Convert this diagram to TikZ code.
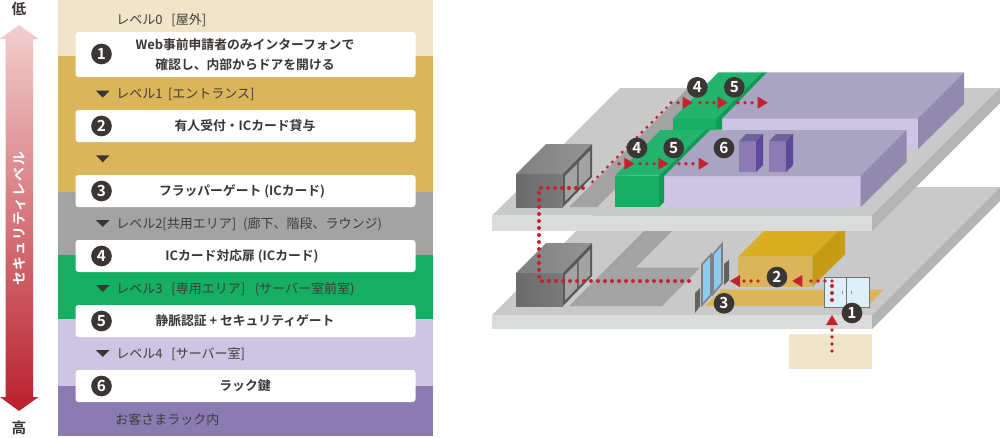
\documentclass[tikz,border=0pt]{standalone}
\usepackage{fontspec}
\setmainfont{Noto Sans CJK JP}[BoldFont={Noto Sans CJK JP Bold}]
\usetikzlibrary{decorations.markings}
\definecolor{cBeige}{HTML}{F0E5C8}
\definecolor{cGold}{HTML}{DAB55A}
\definecolor{cGoldT}{HTML}{DAAE22}
\definecolor{cGoldS}{HTML}{C69C17}
\definecolor{cGrayB}{HTML}{A3A3A3}
\definecolor{cGreen}{HTML}{15AE63}
\definecolor{cGreenT}{HTML}{23B36C}
\definecolor{cGreenS}{HTML}{0F9B57}
\definecolor{cLav}{HTML}{CEC4E3}
\definecolor{cLavT}{HTML}{AAA4C3}
\definecolor{cLavS}{HTML}{9189AE}
\definecolor{cPur}{HTML}{8A7BB3}
\definecolor{cPurT}{HTML}{6E6399}
\definecolor{cPurS}{HTML}{5E4699}
\definecolor{cInk}{HTML}{3A3634}
\definecolor{cText}{HTML}{403C38}
\definecolor{cRed}{HTML}{C3222F}
\definecolor{cFloor}{HTML}{C9C9C9}
\definecolor{cFront}{HTML}{DADCDB}
\definecolor{cSide}{HTML}{B4B4B4}
\definecolor{cGlass}{HTML}{8CCBF0}
\definecolor{cDoor}{HTML}{DDF0FA}
\tikzset{
  x=0.75pt,y=-0.75pt,
  card/.style={fill=white,rounded corners=2.2pt,draw=none},
  num/.style={circle,fill=cInk,text=white,inner sep=0pt,minimum size=15.5pt,font=\fontsize{11.5pt}{12pt}\bfseries},
  cardtext/.style={text=cInk,align=center,font=\fontsize{9.6pt}{14.5pt}\bfseries,inner sep=0pt},
  leveltext/.style={text=cText,anchor=west,inner sep=0pt,font=\fontsize{9.75pt}{12pt}\selectfont},
  endtext/.style={text=cInk,inner sep=0pt,font=\fontsize{11pt}{12pt}\bfseries},
  marker/.style={fill=cInk},
  reddots/.style={postaction={decorate},decoration={markings,
    mark=between positions 0 and 1 step 5.25pt with {\fill[cRed] (0pt,0pt) circle (1.5pt);}}},
  redarrow/.style={postaction={decorate},decoration={markings,
    mark=between positions 0 and -9pt step 5.25pt with {\fill[cRed] (0pt,0pt) circle (1.4pt);},
    mark=at position 1 with {\fill[cRed] (0pt,0pt) -- (-7.5pt,4.5pt) -- (-7.5pt,-4.5pt) -- cycle;}}},
  reddash/.style={draw=cRed,line width=1.6pt,dash pattern=on 1.9pt off 3.35pt},
}
\newcommand{\downmark}[1]{\fill[marker] (96,#1) -- (109.5,#1) -- (102.75,#1+7) -- cycle;}
\newcommand{\storebox}[1]{%
  \begin{scope}[yshift=-#1*0.75pt]
  \shade[left color=black!58,right color=black!52] (516,174) rectangle (563,207);
  \shade[left color=black!50,right color=black!42] (516,174) -- (546,144) -- (592,144) -- (563,174) -- cycle;
  \fill[black!65] (563,174) -- (592,144) -- (592,177) -- (563,207) -- cycle;
  \fill[black!36] (565,176) -- (577,164) -- (577,189) -- (565,201.5) -- cycle;
  \fill[black!36] (578.5,162.5) -- (590,150.5) -- (590,176) -- (578.5,187.5) -- cycle;
  \end{scope}}
\newcommand{\rack}[1]{%
  \fill[cPur] (739.3+#1,141) rectangle (756+#1,172);
  \fill[cPurT] (739.3+#1,141) -- (746+#1,134) -- (763+#1,134) -- (756+#1,141) -- cycle;
  \fill[cPurS] (756+#1,141) -- (763+#1,134) -- (763+#1,165) -- (756+#1,172) -- cycle;}
\begin{document}
\begin{tikzpicture}
\useasboundingbox (0,0) rectangle (1000,437);
% ---- level bands
\fill[cBeige] (58,0) rectangle (433,56);
\fill[cGold] (58,56) rectangle (433,192);
\fill[cGrayB] (58,192) rectangle (433,255);
\fill[cGreen] (58,255) rectangle (433,319);
\fill[cLav] (58,319) rectangle (433,386);
\fill[cPur] (58,386) rectangle (433,436);
% ---- cards
\fill[card] (75.5,32) rectangle (415.5,77);
\fill[card] (75.5,110) rectangle (415.5,142);
\fill[card] (75.5,175) rectangle (415.5,207);
\fill[card] (75.5,240) rectangle (415.5,272);
\fill[card] (75.5,305) rectangle (415.5,337);
\fill[card] (75.5,370) rectangle (415.5,402);
\node[num] (n1) at (101.5,54) {1};
\node[num] (n2) at (101.5,126) {2};
\node[num] (n3) at (101.5,191) {3};
\node[num] (n4) at (101.5,256) {4};
\node[num] (n5) at (101.5,321) {5};
\node[num] (n6) at (101.5,386) {6};
\node[cardtext] (t1) at (245,54.5) {Web事前申請者のみインターフォンで\\確認し、内部からドアを開ける};
\node[cardtext] (t2) at (245,126) {有人受付・ICカード貸与};
\node[cardtext] (t3) at (242,191) {フラッパーゲート (ICカード)};
\node[cardtext] (t4) at (242,256) {ICカード対応扉 (ICカード)};
\node[cardtext] (t5) at (245,321) {静脈認証 + セキュリティゲート};
\node[cardtext] (t6) at (245,386) {ラック鍵};
\node[leveltext] (l0) at (116,20) {レベル0\hspace{4.5pt} [屋外]};
\node[leveltext] (l1) at (116,94) {レベル1\hspace{2pt} [エントランス]};
\node[leveltext] (l2) at (116,224.5) {レベル2[共用エリア]\hspace{3pt} (廊下、階段、ラウンジ)};
\node[leveltext] (l3) at (116,289.5) {レベル3\hspace{4.5pt} [専用エリア]\hspace{5pt} (サーバー室前室)};
\node[leveltext] (l4) at (116,354.5) {レベル4\hspace{4.5pt} [サーバー室]};
\node[leveltext] (l5) at (115,419.5) {お客さまラック内};
\downmark{90.7}\downmark{155.3}\downmark{220}\downmark{285}\downmark{350}
% ---- security arrow
\shade[top color=red!15!white!95!black,middle color=red!45!white!87!black,bottom color=cRed!95!black]
  (19,25) -- (38.5,39) -- (33,39) -- (33,397) -- (38.5,397) -- (19,411) -- (0,397) -- (5.5,397) -- (5.5,39) -- (0,39) -- cycle;
\node[text=white,rotate=90,inner sep=0pt,font=\fontsize{10.4pt}{12pt}\bfseries\addfontfeature{LetterSpace=9}] (sec) at (19.5,219) {セキュリティレベル};
\node[endtext] (low) at (19,9) {低};
\node[endtext] (high) at (19,428) {高};
% ---- lower floor
\fill[cFloor] (492,315) -- (620,187) -- (1000,187) -- (872,315) -- cycle;
\fill[cFront] (492,315) rectangle (872,329);
\fill[cSide] (872,315) -- (1000,187) -- (1000,201) -- (872,329) -- cycle;
\fill[cGrayB] (569,306) -- (662,306) -- (700,267.7) -- (635.3,267.7) -- (683,220) -- (655,220) -- cycle;
\storebox{99}
\fill[cGold] (705,306) -- (721.7,289.7) -- (883.7,289.7) -- (868,306) -- cycle;
% gold reception
\fill[cGold] (738.3,256.7) rectangle (812.3,286.7);
\fill[cGoldT] (738.3,256.7) -- (772,223) -- (846,223) -- (812.3,256.7) -- cycle;
\fill[cGoldS] (812.3,256.7) -- (845,224) -- (845,254.3) -- (812.3,286.7) -- cycle;
\fill[black!62] (695,293) -- (700,288) -- (700,306) -- (695,313) -- cycle;
\fill[black!62] (724,264) -- (729,260) -- (729,280) -- (724,285) -- cycle;
\path[fill=cGlass,draw=black!50,line width=1.2pt] (702,264.3) -- (711,254.6) -- (711,295) -- (702,305) -- cycle;
\path[fill=cGlass,draw=black!50,line width=1.2pt] (713,254.3) -- (722,244) -- (722,283.3) -- (713,294) -- cycle;
% door
\path[fill=cDoor,draw=black!55,line width=0.8pt] (824.3,277.3) rectangle (846.7,307.7);
\path[fill=cDoor,draw=black!55,line width=0.8pt] (846.7,277.3) rectangle (869.7,307.7);
\fill[black!45] (842,290.5) rectangle (843,293.5);
\fill[black!45] (850.5,290.5) rectangle (851.5,293.5);
\fill[cBeige] (789,334) rectangle (872,369);
% ---- upper floor
\fill[cFloor] (492,215.7) -- (620,88) -- (1000,88) -- (872,215.7) -- cycle;
\fill[cFront] (492,215.7) rectangle (872,231);
\fill[cSide] (872,215.7) -- (1000,88) -- (1000,103) -- (872,231) -- cycle;
\fill[cGrayB] (569,207) -- (597,207) -- (716,88) -- (688,88) -- cycle;
\storebox{0}
% back room
\fill[cLav] (722,118.7) rectangle (918,149);
\fill[cLavT] (722,118.7) -- (767,72.3) -- (964,72.3) -- (918,118.7) -- cycle;
\fill[cLavS] (918,118.7) -- (964,72.3) -- (964,104) -- (918,149) -- cycle;
\fill[cGreen] (672.7,119) rectangle (716,129.5);
\fill[cGreenT] (672.7,119) -- (718.3,72.3) -- (761.7,72.3) -- (716,119) -- cycle;
\fill[cGreenS] (716,119) -- (761.7,72.3) -- (767,72.3) -- (722,118.7) -- (722,129.5) -- (716,129.5) -- cycle;
% front room
\fill[cLav] (664,176) rectangle (860.7,207);
\fill[cLavT] (664,176) -- (710,130) -- (906.7,130) -- (860.7,176) -- cycle;
\fill[cLavS] (860.7,176) -- (906.7,130) -- (906.7,161.7) -- (860.7,207) -- cycle;
\fill[cGreen] (615,175.7) rectangle (659,207);
\fill[cGreenT] (615,175.7) -- (660.7,130) -- (705,130) -- (659,175.7) -- cycle;
\fill[cGreenS] (659,175.7) -- (705,130) -- (710,130) -- (664,176) -- (664,202) -- (659,207) -- cycle;
\rack{0}\rack{30}
% ---- named route points
\coordinate (a0) at (832,351);
\coordinate (a1) at (832,315);
\coordinate (b0) at (832,281);
\coordinate (b1) at (832,300);
\coordinate (c1) at (792.3,281);
\coordinate (d0) at (758,281);
\coordinate (d1) at (730,281);
\coordinate (e0) at (689,281);
\coordinate (e1) at (539,281);
\coordinate (f0) at (539,188);
\coordinate (f1) at (587,188);
\coordinate (g0) at (591.7,182.7);
\coordinate (g1) at (667,107);
\coordinate (u0) at (671,102.7);
\coordinate (u1) at (692.7,102.7);
\coordinate (u2) at (700,102.7);
\coordinate (u3) at (727.7,102.7);
\coordinate (u4) at (738,102.7);
\coordinate (u5) at (767.7,102.7);
\coordinate (v0) at (619,163.7);
\coordinate (v1) at (634.3,163.7);
\coordinate (v2) at (640,163.7);
\coordinate (v3) at (668.3,163.7);
\coordinate (v4) at (679,163.7);
\coordinate (v5) at (708.7,163.7);
% ---- routes
\path[redarrow] (a0) -- (a1);
\path[reddots] (b1) -- (b0);
\path[redarrow] (b0) -- (c1);
\path[redarrow] (d0) -- (d1);
\path[reddots] (e0) -- (e1) -- (f0) -- (f1);
\draw[reddash] (g0) -- (g1);
\path[redarrow] (u0) -- (u1);
\path[redarrow] (u2) -- (u3);
\path[redarrow] (u4) -- (u5);
\path[redarrow] (v0) -- (v1);
\path[redarrow] (v2) -- (v3);
\path[redarrow] (v4) -- (v5);
% ---- badges
\node[num] (p1) at (852,313) {1};
\node[num] (p2) at (777,277) {2};
\node[num] (p3) at (724,303.3) {3};
\node[num] (p4) at (637,148) {4};
\node[num] (p5) at (673.7,148) {5};
\node[num] (p6) at (724,148) {6};
\node[num] (q4) at (697.3,87.3) {4};
\node[num] (q5) at (734.3,87.3) {5};
\end{tikzpicture}
\end{document}
